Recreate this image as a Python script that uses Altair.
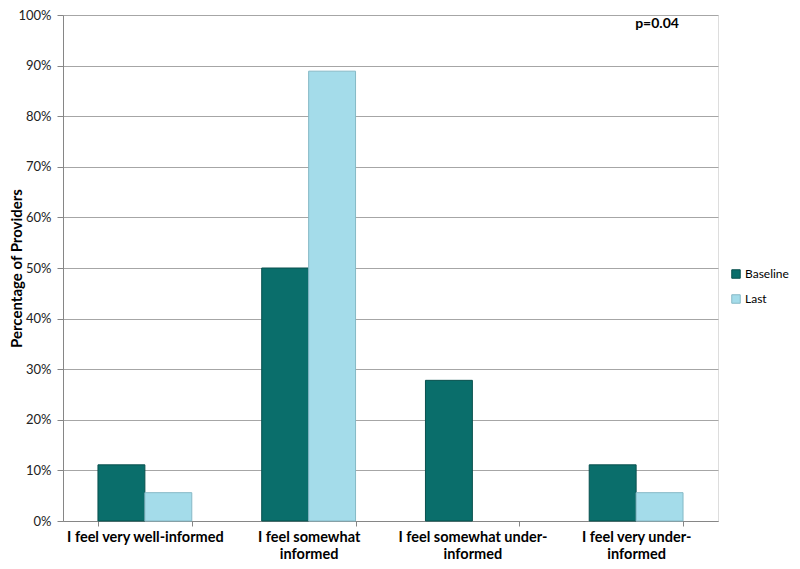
import altair as alt
import pandas as pd

categories = [
    "I feel very well-informed",
    "I feel somewhat informed",
    "I feel somewhat under-informed",
    "I feel very under-informed",
]
label_lines = [
    ["I feel very well-informed"],
    ["I feel somewhat", "informed"],
    ["I feel somewhat under-", "informed"],
    ["I feel very under-", "informed"],
]
series = ["Baseline", "Last"]
baseline = [11.1, 50.0, 27.8, 11.1]
last = [5.6, 88.9, 0.0, 5.6]
colors = ["#0a6e6b", "#a4dcea"]
strokes = ["#08504e", "#86b9c6"]
y_ticks = [0, 10, 20, 30, 40, 50, 60, 70, 80, 90, 100]

rows = []
for c, b, l in zip(categories, baseline, last):
    rows.append({"category": c, "series": "Baseline", "value": b})
    rows.append({"category": c, "series": "Last", "value": l})
df = pd.DataFrame(rows)

# build label expression with line breaks
expr = "datum.label"
for c, lines in reversed(list(zip(categories, label_lines))):
    arr = "[" + ",".join("'" + s + "'" for s in lines) + "]"
    expr = f"datum.label == '{c}' ? {arr} : ({expr})"

FONT = "Lato"

bars = alt.Chart(df).mark_bar(strokeWidth=1).encode(
    x=alt.X(
        "category:N",
        sort=categories,
        scale=alt.Scale(paddingInner=0.427, paddingOuter=0.2135),
        axis=alt.Axis(
            title=None,
            labelExpr=expr,
            labelAngle=0,
            labelFont=FONT,
            labelFontSize=14.5,
            labelFontWeight="bold",
            labelColor="#000000",
            labelLineHeight=17.5,
            labelPadding=4,
            tickBand="extent",
            tickSize=5,
            tickColor="#868686",
            domainColor="#868686",
            grid=False,
        ),
    ),
    xOffset=alt.XOffset("series:N", sort=series, scale=alt.Scale(paddingInner=0, paddingOuter=0)),
    y=alt.Y(
        "value:Q",
        scale=alt.Scale(domain=[0, 100], nice=False),
        axis=alt.Axis(
            title="Percentage of Providers",
            titleFont=FONT,
            titleFontSize=15,
            titleFontWeight="bold",
            titleColor="#000000",
            titleX=-47,
            titleBaseline="middle",
            values=y_ticks,
            labelExpr="datum.value + '%'",
            labelFont=FONT,
            labelFontSize=13,
            labelColor="#222222",
            labelPadding=6,
            tickSize=6,
            tickColor="#868686",
            domainColor="#868686",
            gridColor="#a6a6a6",
            grid=True,
        ),
    ),
    color=alt.Color(
        "series:N",
        sort=series,
        scale=alt.Scale(domain=series, range=colors),
        legend=alt.Legend(
            title=None,
            orient="none",
            legendX=667,
            legendY=253,
            symbolType="square",
            symbolSize=72,
            symbolStrokeWidth=1,
            labelFont=FONT,
            labelFontSize=12,
            labelColor="#000000",
            rowPadding=11,
            labelOffset=3,
        ),
    ),
    stroke=alt.Stroke("series:N", sort=series, scale=alt.Scale(domain=series, range=strokes), legend=None),
    strokeOpacity=alt.condition("datum.value > 0", alt.value(1), alt.value(0)),
)

ptext = alt.Chart(pd.DataFrame({"t": ["p=0.04"]})).mark_text(
    font=FONT, fontSize=14, fontWeight="bold", color="#000000", align="center", baseline="middle"
).encode(text="t:N", x=alt.value(594), y=alt.value(9))

chart = alt.layer(bars, ptext).properties(
    width=655,
    height=506,
    padding={"left": 55, "top": 7, "right": 74, "bottom": 40},
    autosize=alt.AutoSizeParams(type="none"),
).configure_view(stroke=None).configure(background="#ffffff")

chart.save("out.html", embed_options={"renderer": "svg", "actions": False})
